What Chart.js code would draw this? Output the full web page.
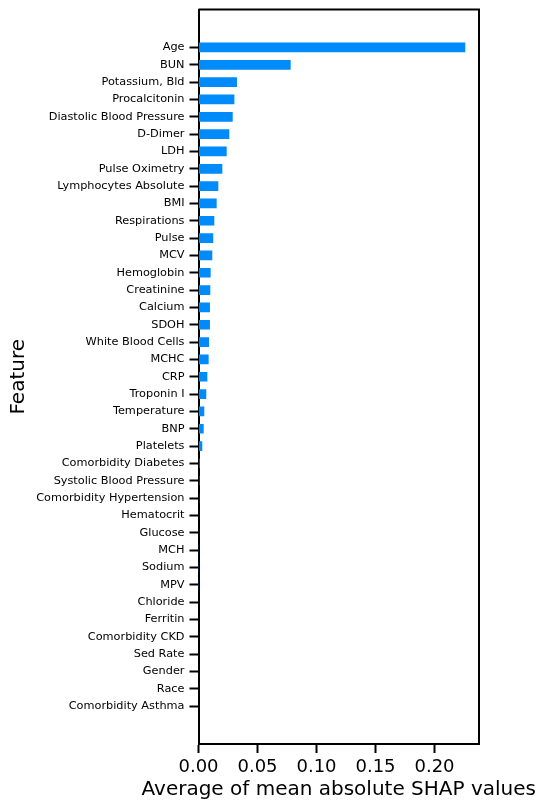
<!DOCTYPE html>
<html>
<head>
<meta charset="utf-8">
<script src="https://cdn.jsdelivr.net/npm/chart.js@4/dist/chart.umd.min.js"></script>
<style>
  html, body { margin: 0; padding: 0; background: #fff; }
  #wrap { width: 554px; height: 800px; }
</style>
</head>
<body>
<div id="wrap"><canvas id="c" width="554" height="800"></canvas></div>
<script>
// Features ranked by average mean |SHAP|
const features = [
  'Age', 'BUN', 'Potassium, Bld', 'Procalcitonin', 'Diastolic Blood Pressure',
  'D-Dimer', 'LDH', 'Pulse Oximetry', 'Lymphocytes Absolute', 'BMI',
  'Respirations', 'Pulse', 'MCV', 'Hemoglobin', 'Creatinine',
  'Calcium', 'SDOH', 'White Blood Cells', 'MCHC', 'CRP',
  'Troponin I', 'Temperature', 'BNP', 'Platelets', 'Comorbidity Diabetes',
  'Systolic Blood Pressure', 'Comorbidity Hypertension', 'Hematocrit', 'Glucose', 'MCH',
  'Sodium', 'MPV', 'Chloride', 'Ferritin', 'Comorbidity CKD',
  'Sed Rate', 'Gender', 'Race', 'Comorbidity Asthma'
];
const shapValues = [
  0.2261, 0.0781, 0.0326, 0.0304, 0.0290,
  0.0261, 0.0239, 0.0202, 0.0168, 0.0154,
  0.0134, 0.0125, 0.0117, 0.0103, 0.0100,
  0.0097, 0.0097, 0.0089, 0.0086, 0.0075,
  0.0066, 0.0049, 0.0044, 0.0032, 0.0009,
  0.0007, 0.0006, 0.0005, 0.0005, 0.0002,
  0.0001, 0.0001, 0, 0, 0,
  0, 0, 0, 0
];
const xTickValues = [0, 0.05, 0.10, 0.15, 0.20];
const xTitle = 'Average of mean absolute SHAP values';

const FONT = 'DejaVu Sans';

// Top and right spines, plus the x-axis title drawn at its natural width
const frame = {
  id: 'frame',
  afterDraw(chart) {
    const { ctx, chartArea: a } = chart;
    ctx.save();
    ctx.strokeStyle = '#000';
    ctx.lineWidth = 2;
    ctx.beginPath();
    ctx.moveTo(a.left, a.top);
    ctx.lineTo(a.right, a.top);
    ctx.lineTo(a.right, a.bottom);
    ctx.stroke();

    ctx.fillStyle = '#000';
    ctx.font = '20px "' + FONT + '"';
    ctx.textAlign = 'center';
    ctx.textBaseline = 'alphabetic';
    ctx.fillText(xTitle, (a.left + a.right) / 2, a.bottom + 51);
    ctx.restore();
  }
};

new Chart(document.getElementById('c'), {
  type: 'bar',
  data: {
    datasets: [{
      data: shapValues.map((v, i) => ({ x: v, y: i })),
      backgroundColor: '#008bfb',
      borderWidth: 0,
      categoryPercentage: 1,
      barPercentage: 0.56
    }]
  },
  options: {
    indexAxis: 'y',
    responsive: false,
    animation: false,
    devicePixelRatio: 1,
    layout: { padding: { top: 9.5, right: 75, left: 0, bottom: 0 } },
    plugins: { legend: { display: false }, tooltip: { enabled: false } },
    scales: {
      y: {
        type: 'linear',
        reverse: true,
        offset: false,
        min: -2.19,
        max: features.length - 1 + 2.19,
        afterBuildTicks(scale) {
          scale.ticks = features.map((_, i) => ({ value: i }));
        },
        afterFit(scale) {
          scale.width = 198.5;
          scale.paddingTop = 0; scale.paddingBottom = 0;
          scale.paddingLeft = 0; scale.paddingRight = 0;
        },
        ticks: {
          autoSkip: false,
          padding: 5,
          color: '#000',
          font: { family: FONT, size: 11.3 },
          callback: (v) => features[v] ?? ''
        },
        grid: {
          offset: false,
          drawOnChartArea: false,
          drawTicks: true,
          tickLength: 9,
          tickWidth: 2,
          tickColor: '#000'
        },
        border: { display: true, color: '#000', width: 2 },
        title: {
          display: true,
          text: 'Feature',
          color: '#000',
          font: { family: FONT, size: 20 },
          padding: { top: 7, bottom: 0 }
        }
      },
      x: {
        type: 'linear',
        offset: false,
        min: 0,
        max: 0.2377,
        afterBuildTicks(scale) {
          scale.ticks = xTickValues.map(v => ({ value: v }));
        },
        afterFit(scale) {
          scale.height = 56;
          scale.paddingLeft = 0; scale.paddingRight = 0;
          scale.paddingTop = 0; scale.paddingBottom = 0;
        },
        ticks: {
          padding: 4,
          maxRotation: 0,
          color: '#000',
          font: { family: FONT, size: 18 },
          callback: (v) => Number(v).toFixed(2)
        },
        grid: {
          offset: false,
          drawOnChartArea: false,
          drawTicks: true,
          tickLength: 9,
          tickWidth: 2,
          tickColor: '#000'
        },
        border: { display: true, color: '#000', width: 2 },
        title: { display: false }
      }
    }
  },
  plugins: [frame]
});
</script>
</body>
</html>
